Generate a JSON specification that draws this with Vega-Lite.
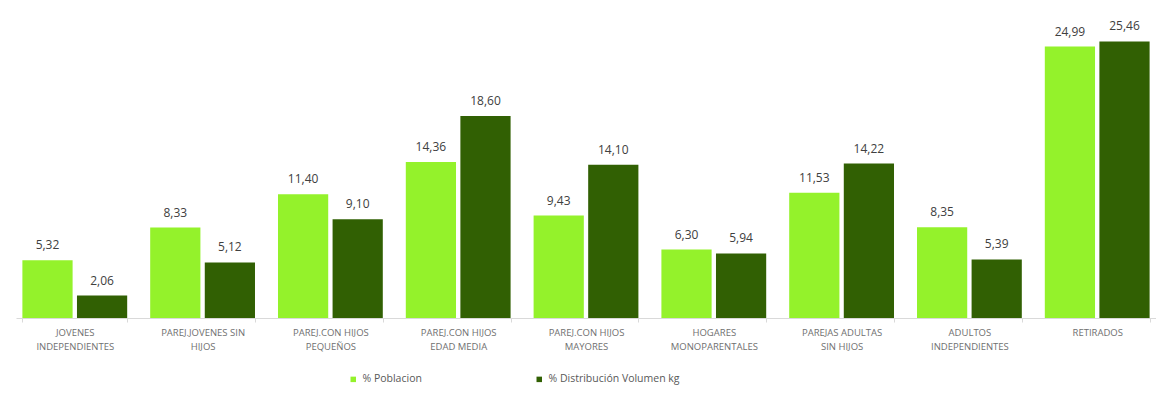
{
  "$schema": "https://vega.github.io/schema/vega-lite/v6.json",
  "width": 1140,
  "height": 315,
  "padding": {"left": 16, "top": 3, "right": 0, "bottom": 0},
  "autosize": {"type": "pad"},
  "background": "white",
  "config": {
    "view": {"stroke": null},
    "locale": {"number": {"decimal": ",", "thousands": ".", "grouping": [3], "currency": ["", " €"]}},
    "font": "Open Sans"
  },
  "data": {
    "values": [
      {"grupo": "JOVENES|INDEPENDIENTES", "serie": "% Poblacion", "valor": 5.32},
      {"grupo": "JOVENES|INDEPENDIENTES", "serie": "% Distribución Volumen kg", "valor": 2.06},
      {"grupo": "PAREJ.JOVENES SIN|HIJOS", "serie": "% Poblacion", "valor": 8.33},
      {"grupo": "PAREJ.JOVENES SIN|HIJOS", "serie": "% Distribución Volumen kg", "valor": 5.12},
      {"grupo": "PAREJ.CON HIJOS|PEQUEÑOS", "serie": "% Poblacion", "valor": 11.40},
      {"grupo": "PAREJ.CON HIJOS|PEQUEÑOS", "serie": "% Distribución Volumen kg", "valor": 9.10},
      {"grupo": "PAREJ.CON HIJOS|EDAD MEDIA", "serie": "% Poblacion", "valor": 14.36},
      {"grupo": "PAREJ.CON HIJOS|EDAD MEDIA", "serie": "% Distribución Volumen kg", "valor": 18.60},
      {"grupo": "PAREJ.CON HIJOS|MAYORES", "serie": "% Poblacion", "valor": 9.43},
      {"grupo": "PAREJ.CON HIJOS|MAYORES", "serie": "% Distribución Volumen kg", "valor": 14.10},
      {"grupo": "HOGARES|MONOPARENTALES", "serie": "% Poblacion", "valor": 6.30},
      {"grupo": "HOGARES|MONOPARENTALES", "serie": "% Distribución Volumen kg", "valor": 5.94},
      {"grupo": "PAREJAS ADULTAS|SIN HIJOS", "serie": "% Poblacion", "valor": 11.53},
      {"grupo": "PAREJAS ADULTAS|SIN HIJOS", "serie": "% Distribución Volumen kg", "valor": 14.22},
      {"grupo": "ADULTOS|INDEPENDIENTES", "serie": "% Poblacion", "valor": 8.35},
      {"grupo": "ADULTOS|INDEPENDIENTES", "serie": "% Distribución Volumen kg", "valor": 5.39},
      {"grupo": "RETIRADOS", "serie": "% Poblacion", "valor": 24.99},
      {"grupo": "RETIRADOS", "serie": "% Distribución Volumen kg", "valor": 25.46}
    ]
  },
  "encoding": {
    "x": {
      "field": "grupo", "type": "nominal", "sort": null,
      "scale": {"paddingInner": 0.18, "paddingOuter": 0.05},
      "axis": {
        "title": null, "labelAngle": 0,
        "labelExpr": "split(datum.label, '|')",
        "labelFont": "Open Sans", "labelFontSize": 9.5, "labelColor": "#707070",
        "labelLineHeight": 14, "labelPadding": 5,
        "domainColor": "#d9d9d9", "tickColor": "#d9d9d9", "tickBand": "extent", "tickSize": 4
      }
    },
    "xOffset": {
      "field": "serie", "type": "nominal",
      "sort": ["% Poblacion", "% Distribución Volumen kg"],
      "scale": {"paddingInner": 0.08}
    },
    "y": {
      "field": "valor", "type": "quantitative",
      "scale": {"domain": [0, 29]},
      "axis": null
    }
  },
  "layer": [
    {
      "mark": {"type": "bar"},
      "encoding": {
        "color": {
          "field": "serie", "type": "nominal",
          "sort": ["% Poblacion", "% Distribución Volumen kg"],
          "scale": {"domain": ["% Poblacion", "% Distribución Volumen kg"], "range": ["#94f22b", "#316003"]},
          "legend": {
            "title": null, "orient": "none", "direction": "horizontal",
            "legendX": 332, "legendY": 371,
            "symbolType": "square", "symbolSize": 30, "symbolStrokeWidth": 0,
            "labelFont": "Open Sans", "labelFontSize": 10.5, "labelColor": "#595959",
            "columnPadding": 112
          }
        }
      }
    },
    {
      "mark": {"type": "text", "baseline": "bottom", "dy": -8, "fontSize": 12, "color": "#404040", "font": "Open Sans"},
      "encoding": {
        "text": {"field": "valor", "type": "quantitative", "format": ".2f"}
      }
    }
  ]
}
